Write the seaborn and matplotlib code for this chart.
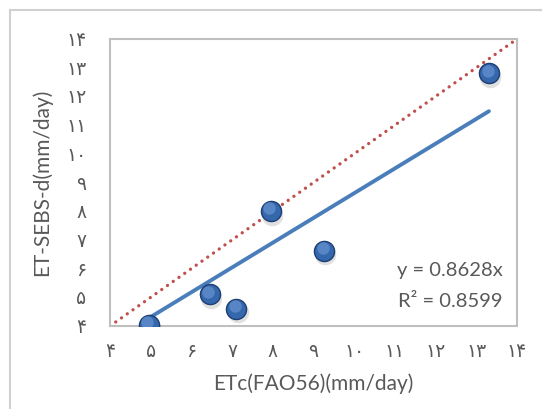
import seaborn as sns
import matplotlib.pyplot as plt
import matplotlib.transforms as mtransforms
import numpy as np
import pandas as pd
from matplotlib.patches import Rectangle

# values
etc_fao56 = [4.95, 6.45, 7.1, 7.95, 9.26, 13.31]
et_sebs_d = [4.05, 5.1, 4.6, 8.0, 6.63, 12.8]
slope = 0.8628
r_squared = 0.8599

tick_values = [4, 5, 6, 7, 8, 9, 10, 11, 12, 13, 14]
tick_labels = ['۴', '۵', '۶', '۷', '۸', '۹', '۱۰', '۱۱', '۱۲', '۱۳', '۱۴']

data = pd.DataFrame({'etc': etc_fao56, 'sebs': et_sebs_d})
fit_x = np.array([data['etc'].min(), data['etc'].max()])
trend = pd.DataFrame({'etc': fit_x, 'sebs': slope * fit_x})

sns.set_style('white')
plt.rcParams['font.family'] = ['Lato', 'DejaVu Sans']

fig = plt.figure(figsize=(5.42, 4.09), dpi=100)
ax = fig.add_axes([110 / 542, 1 - 326 / 409, 407 / 542, 287 / 409])

# chart area border (only top/left visible)
fig.patches.append(Rectangle((10 / 542, -0.5), 2, 1.5 - 10 / 409,
                             fill=False, edgecolor='#D0D0D0', lw=1.5,
                             transform=fig.transFigure))

# 1:1 line
ax.plot([tick_values[0], tick_values[-1]], [tick_values[0], tick_values[-1]],
        linestyle=(0, (0.01, 2.1)), dash_capstyle='round',
        color='#C0504D', lw=2.4, zorder=2)

# trend line
sns.lineplot(data=trend, x='etc', y='sebs', color='#4A7EBB', lw=2.8,
             ax=ax, zorder=3)

# marker shadow, body and highlight
shadow = mtransforms.offset_copy(ax.transData, fig=fig, x=1, y=-2.5, units='points')
ax.scatter(data['etc'], data['sebs'], s=240, color='#000000', alpha=0.12,
           linewidths=0, transform=shadow, zorder=4)
sns.scatterplot(data=data, x='etc', y='sebs', s=210, color='#3567AC',
                edgecolor='#1D3F73', linewidth=1.0, ax=ax, zorder=5)
hl = mtransforms.offset_copy(ax.transData, fig=fig, x=-1, y=2, units='points')
ax.scatter(data['etc'], data['sebs'], s=80, color='#6F9AD6', alpha=0.6,
           linewidths=0, transform=hl, zorder=6)

ax.set_xlim(4, 14)
ax.set_ylim(4, 14)
ax.set_xticks(tick_values)
ax.set_xticklabels(tick_labels)
ax.set_yticks(tick_values)
ax.set_yticklabels(tick_labels)
ax.tick_params(axis='both', length=0, labelsize=13.5, labelcolor='#595959')
ax.tick_params(axis='y', pad=17)
ax.tick_params(axis='x', pad=12)

for sp in ax.spines.values():
    sp.set_color('#BFBFBF')
    sp.set_linewidth(1.5)

ax.set_xlabel('ETc(FAO56)(mm/day)', fontsize=15, color='#595959', labelpad=10)
ax.set_ylabel('ET-SEBS-d(mm/day)', fontsize=15, color='#595959', labelpad=10)

ax.text(0.965, 0.195, 'y = {:.4f}x'.format(slope), transform=ax.transAxes,
        ha='right', va='center', fontsize=14.5, color='#595959')
ax.text(0.965, 0.084, 'R² = {:.4f}'.format(r_squared), transform=ax.transAxes,
        ha='right', va='center', fontsize=14.5, color='#595959')

plt.savefig('out.png', dpi=100)
